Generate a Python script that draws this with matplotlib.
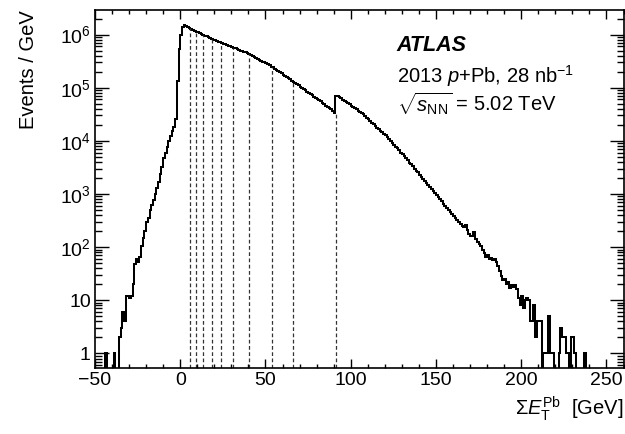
import numpy as np
import matplotlib
matplotlib.use("Agg")
import matplotlib.pyplot as plt
from matplotlib.ticker import FixedLocator, FixedFormatter, LogLocator, NullFormatter, MultipleLocator

plt.rcParams['font.family'] = ['Liberation Sans', 'DejaVu Sans']
plt.rcParams['mathtext.fontset'] = 'custom'
plt.rcParams['mathtext.rm'] = 'Liberation Sans'
plt.rcParams['mathtext.it'] = 'Liberation Sans:italic'
plt.rcParams['mathtext.bf'] = 'Liberation Sans:bold'

# histogram: 1 GeV bins starting at -50 GeV (events / GeV)
bin_lo = -50
bin_width = 1
counts = [
    0, 0, 0, 0, 0, 0, 1, 0, 0, 0,                                              # -50 .. -41
    0, 1, 0, 0, 2, 3, 6, 4, 12, 12,                                            # -40 .. -31
    11, 12, 20, 49, 60, 52, 65, 107, 150, 200,                                 # -30 .. -21
    300, 360, 500, 620, 780, 1000, 1300, 1700, 2400, 3200,                     # -20 .. -11
    4800, 6000, 7800, 9800, 12300, 15000, 18500, 26000, 1.35e5, 5.3e5,         # -10 .. -1
    1.0e6, 1.38e6, 1.5e6, 1.45e6, 1.38e6, 1.32e6, 1.26e6, 1.22e6, 1.17e6, 1.14e6,
    1.10e6, 1.06e6, 1.02e6, 9.9e5, 9.5e5, 9.2e5, 8.9e5, 8.6e5, 8.3e5, 8.0e5,
    7.8e5, 7.5e5, 7.3e5, 7.1e5, 6.9e5, 6.7e5, 6.5e5, 6.3e5, 6.15e5, 6.0e5,
    5.8e5, 5.65e5, 5.5e5, 5.3e5, 5.2e5, 5.0e5, 4.9e5, 4.7e5, 4.6e5, 4.4e5,
    4.3e5, 4.1e5, 3.95e5, 3.8e5, 3.65e5, 3.5e5, 3.37e5, 3.24e5, 3.1e5, 2.98e5,
    2.86e5, 2.74e5, 2.62e5, 2.5e5, 2.4e5, 2.28e5, 2.17e5, 2.06e5, 1.96e5, 1.86e5,
    1.77e5, 1.68e5, 1.6e5, 1.51e5, 1.44e5, 1.36e5, 1.29e5, 1.22e5, 1.16e5, 1.1e5,
    1.04e5, 9.9e4, 9.4e4, 8.9e4, 8.4e4, 8.0e4, 7.6e4, 7.2e4, 6.8e4, 6.5e4,
    6.1e4, 5.8e4, 5.5e4, 5.2e4, 4.9e4, 4.6e4, 4.4e4, 4.1e4, 3.9e4, 3.7e4,
    3.4e4, 7.1e4, 6.9e4, 6.6e4, 6.3e4, 5.95e4, 5.6e4, 5.4e4, 5.1e4, 4.85e4,   # 90 .. 99
    4.57e4, 4.37e4, 4.12e4, 3.94e4, 3.72e4, 3.51e4, 3.31e4, 3.13e4, 2.92e4, 2.72e4,
    2.54e4, 2.37e4, 2.21e4, 2.04e4, 1.91e4, 1.78e4, 1.66e4, 1.55e4, 1.45e4, 1.35e4,
    1.26e4, 1.16e4, 1.07e4, 9900, 9100, 8400, 7800, 7200, 6600, 6000,
    5600, 5100, 4700, 4300, 3900, 3600, 3300, 3000, 2750, 2540,
    2320, 2110, 1950, 1780, 1620, 1480, 1350, 1240, 1150, 1050,
    955, 870, 795, 725, 660, 600, 555, 505, 460, 420,                         # 150 .. 159
    390, 355, 325, 295, 270, 250, 240, 265, 210, 175,
    165, 160, 190, 140, 125, 112, 105, 90, 76, 66,
    71, 60, 63, 58, 60, 52, 45, 35, 28, 24,
    25, 20, 22, 17, 19, 18, 19, 16, 11, 8,
    12, 7, 10, 11, 10, 4, 4, 8, 2, 4,                                          # 200 .. 209
    4, 4, 0, 1, 1, 1, 5, 1, 1, 0,
    0, 0, 1, 3, 2, 2, 1, 1, 0, 2,
    2, 1, 0, 0, 0, 0, 0, 1, 0, 0,
    0, 0, 0, 0, 0, 0, 0, 0, 0, 0,
    0, 0, 0, 0, 0, 0, 0, 0, 0, 0,                                              # 250 .. 259
]

# centrality bin boundaries in sum E_T^Pb [GeV]
cent_cuts = [5.5, 9.2, 13.5, 18.5, 24.1, 31.0, 40.1, 53.8, 66.3, 91.1]

x_ticks = [-50, 0, 50, 100, 150, 200, 250]
y_ticks = [1, 10, 1e2, 1e3, 1e4, 1e5, 1e6]
y_tick_labels = ['1', '10', '$10^{2}$', '$10^{3}$', '$10^{4}$', '$10^{5}$', '$10^{6}$']

counts = np.array(counts, dtype=float)
edges = bin_lo + bin_width * np.arange(len(counts) + 1)
ymin, ymax = 0.54, 2.9e6

fig = plt.figure(figsize=(6.25, 4.34), dpi=100)
ax = fig.add_axes([0.152, 0.153, 0.8456, 0.824])

draw_vals = np.where(counts > 0, counts, 1e-3)
ax.stairs(draw_vals, edges, baseline=None, color='black', lw=1.45)

# dashed lines from the axis up to the histogram
for c in cent_cuts:
    i = int(np.floor((c - bin_lo) / bin_width))
    top = min(counts[i - 1], counts[i])
    ax.vlines(c, ymin, top, colors='#333333', linestyles=(0, (3, 2)), lw=0.9)

ax.set_yscale('log')
ax.set_xlim(-50, 260)
ax.set_ylim(ymin, ymax)

ax.xaxis.set_major_locator(FixedLocator(x_ticks))
ax.xaxis.set_minor_locator(MultipleLocator(10))
ax.yaxis.set_major_locator(FixedLocator(y_ticks))
ax.yaxis.set_major_formatter(FixedFormatter(y_tick_labels))
ax.yaxis.set_minor_locator(LogLocator(base=10, subs=np.arange(2, 10)))
ax.yaxis.set_minor_formatter(NullFormatter())

ax.tick_params(axis='both', which='both', direction='in', top=True, right=True, labelsize=14, width=1.0)
ax.tick_params(axis='x', which='major', length=6.5, pad=3)
ax.tick_params(axis='x', which='minor', length=3.2)
ax.tick_params(axis='y', which='major', length=10, pad=3)
ax.tick_params(axis='y', which='minor', length=5)
for s in ax.spines.values():
    s.set_linewidth(1.2)

ax.set_xlabel(r'$\Sigma E_{\mathrm{T}}^{\mathrm{Pb}}$  [GeV]', fontsize=14.5, loc='right', labelpad=4)
ax.set_ylabel('Events / GeV', fontsize=14.5, loc='top', labelpad=16)

ax.text(0.571, 0.886, 'ATLAS', transform=ax.transAxes, fontsize=15.5, fontweight='bold', fontstyle='italic')
ax.text(0.571, 0.795, r'2013 $p$+Pb, 28 nb$^{\mathregular{-1}}$', transform=ax.transAxes, fontsize=14.5)
ax.text(0.571, 0.716, r'$\sqrt{s_{\mathrm{NN}}}$ = 5.02 TeV', transform=ax.transAxes, fontsize=14.5)

fig.savefig('out.png', dpi=100)
